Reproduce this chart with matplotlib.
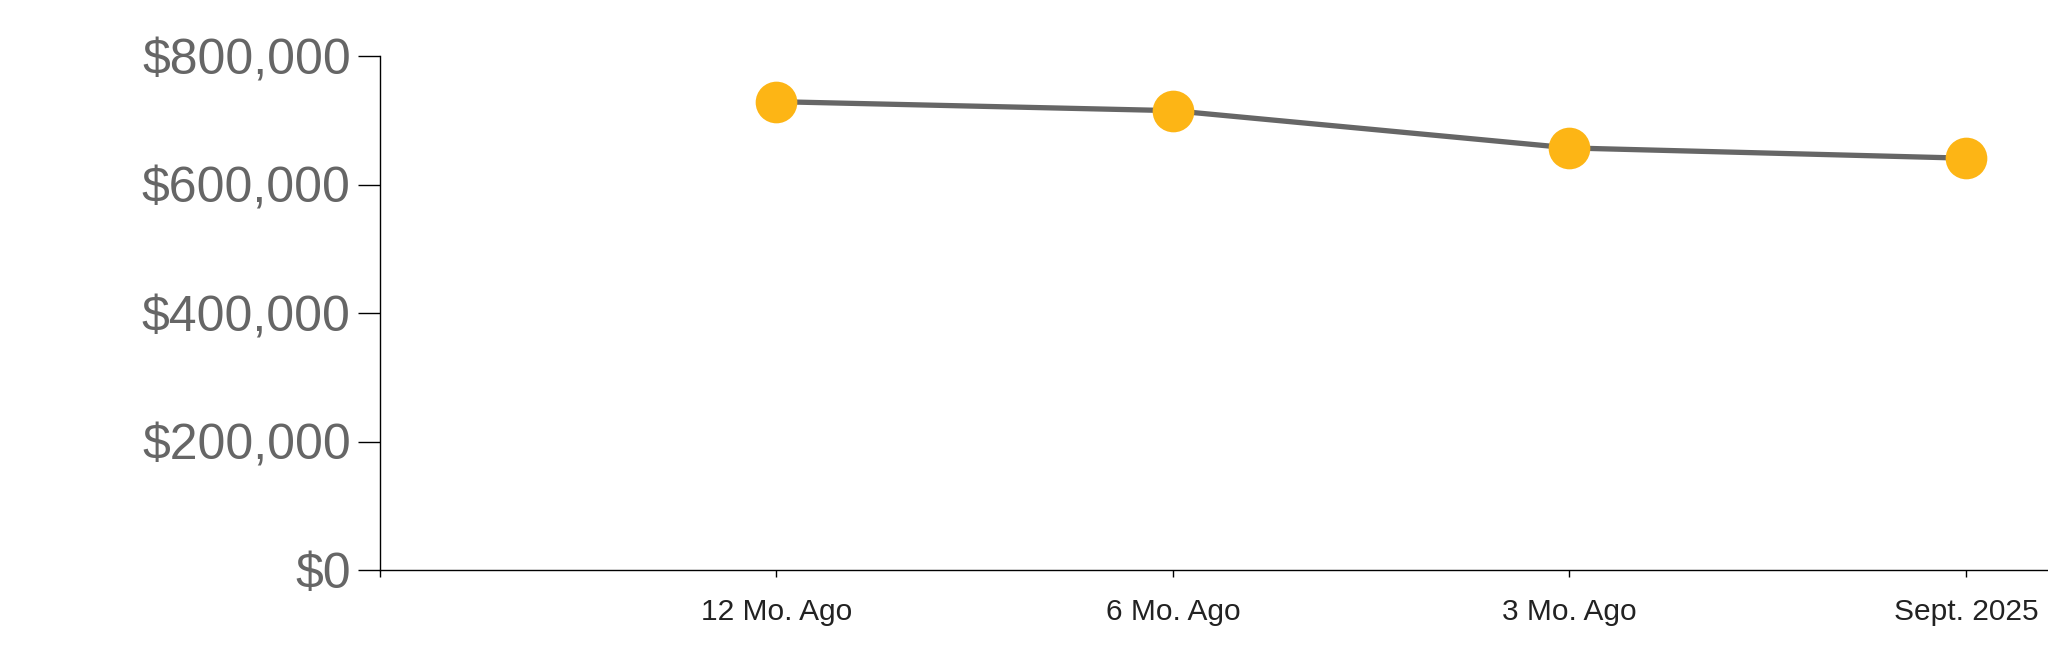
import numpy as np
import matplotlib.pyplot as plt
from matplotlib.ticker import FuncFormatter

plt.rcParams['font.family'] = ['Liberation Sans', 'DejaVu Sans']

# data
periods = ['12 Mo. Ago', '6 Mo. Ago', '3 Mo. Ago', 'Sept. 2025']
prices = [729000, 715000, 657000, 641000]
y_ticks = [0, 200000, 400000, 600000, 800000]

LINE_COLOR = '#666666'
DOT_COLOR = '#FDB515'
LABEL_GRAY = '#666666'


def money(v, _pos):
    return '${:,.0f}'.format(v)


fig = plt.figure(figsize=(20.48, 6.63), dpi=100)
ax = fig.add_axes([0.1855, 0.140, 0.8145, 0.7755])

x = np.arange(1, len(periods) + 1)
ax.plot(x, prices, color=LINE_COLOR, linewidth=3.8, zorder=2)
ax.plot(x, prices, linestyle='none', marker='o', markersize=30,
        markerfacecolor=DOT_COLOR, markeredgecolor='none', zorder=3)

ax.set_xlim(0, 4.207)
ax.set_ylim(0, 800000)

ax.set_xticks(np.arange(0, len(periods) + 1))
ax.set_xticklabels([''] + periods)
ax.set_yticks(y_ticks)
ax.yaxis.set_major_formatter(FuncFormatter(money))

ax.tick_params(axis='y', length=16, width=1, color='black', pad=5,
               labelsize=36, labelcolor=LABEL_GRAY)
ax.tick_params(axis='x', length=5, width=1, color='black', pad=15,
               labelsize=21.5, labelcolor='#222222')

for side in ['top', 'right']:
    ax.spines[side].set_visible(False)
for side in ['left', 'bottom']:
    ax.spines[side].set_linewidth(1)
    ax.spines[side].set_color('black')

fig.savefig('out.png', dpi=100, facecolor='white')
